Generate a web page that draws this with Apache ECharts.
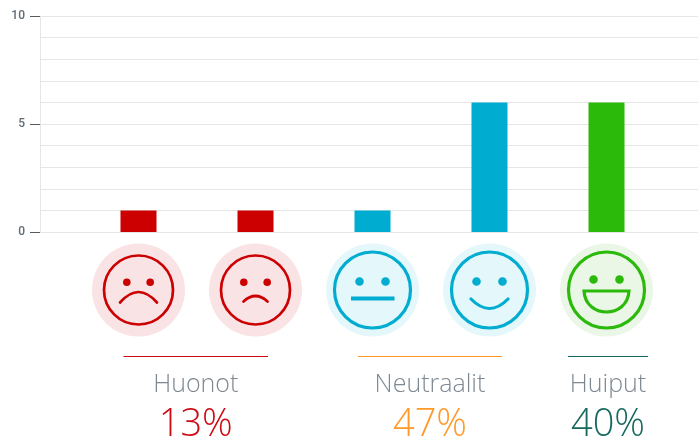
<!DOCTYPE html>
<html>
<head>
<meta charset="utf-8">
<style>
  html, body { margin: 0; padding: 0; background: #fff; }
  #chart { width: 698px; height: 440px; }
</style>
<script src="https://cdn.jsdelivr.net/npm/echarts@6/dist/echarts.min.js"></script>
</head>
<body>
<div id="chart"></div>
<script>
var categories = ['1', '2', '3', '4', '5'];
var values = [1, 1, 1, 6, 6];
var barColors = ['#cc0000', '#cc0000', '#00acd0', '#00acd0', '#2bb90a'];
var faceBackgrounds = ['#fae3e5', '#fae3e5', '#e4f7fa', '#e4f7fa', '#eaf6e6'];
var faceTypes = ['veryBad', 'bad', 'neutral', 'good', 'great'];
var groupNames = ['Huonot', 'Neutraalit', 'Huiput'];
var groupPercents = ['13%', '47%', '40%'];
var groupColors = ['#cc0a14', '#ff9a2a', '#16695f'];
var groupRanges = [[123.5, 268], [358, 502], [568, 648]];

var fontFamily = '"Open Sans", sans-serif';

var faceSizes = {
  veryBad: { r: 34.5, lw: 2.7, eye: 3.8, ex: 11.7, ey: -7.7, mw: 2.7 },
  bad: { r: 34.5, lw: 2.7, eye: 3.8, ex: 11.7, ey: -7.7, mw: 2.7 },
  neutral: { r: 38, lw: 3.2, eye: 4.3, ex: 13, ey: -8.5, mw: 4 },
  good: { r: 38, lw: 3.2, eye: 4.3, ex: 13, ey: -8.5, mw: 3.2 },
  great: { r: 38, lw: 3.2, eye: 4.3, ex: 13, ey: -10.5, mw: 3.2 }
};

// mouth drawn relative to the face centre
function curve(x1, y1, cpy, x2) {
  return { type: 'bezierCurve', shape: { x1: x1, y1: y1, cpx1: 0, cpy1: cpy, x2: x2, y2: y1 } };
}
function mouth(type) {
  if (type === 'veryBad') return curve(-18.5, 12.5, -8.5, 18.5);
  if (type === 'bad') return curve(-12, 11.5, 0.5, 12);
  if (type === 'good') return curve(-18.5, 9, 28, 18.5);
  if (type === 'neutral') return { type: 'line', shape: { x1: -21.5, y1: 8.5, x2: 22, y2: 8.5 } };
  return {
    type: 'path',
    shape: {
      pathData: 'M-22.5 1 L22.5 1 C21 30 -21 30 -22.5 1 Z',
      layout: 'cover', x: -22.5, y: 1, width: 45, height: 21
    }
  };
}

function renderFace(params, api) {
  var i = api.value(0);
  var pos = api.coord([i, 0]);
  var type = faceTypes[i];
  var s = faceSizes[type];
  var color = barColors[i];
  var mouthEl = mouth(type);
  mouthEl.style = {
    fill: 'none',
    stroke: color,
    lineWidth: s.mw,
    lineCap: type === 'neutral' ? 'butt' : 'round'
  };
  return {
    type: 'group',
    x: pos[0],
    y: pos[1] + 58,
    children: [
      { type: 'circle', shape: { r: 46.5 }, style: { fill: faceBackgrounds[i] } },
      { type: 'circle', shape: { r: s.r }, style: { fill: 'none', stroke: color, lineWidth: s.lw } },
      { type: 'circle', shape: { cx: -s.ex, cy: s.ey, r: s.eye }, style: { fill: color } },
      { type: 'circle', shape: { cx: s.ex, cy: s.ey, r: s.eye }, style: { fill: color } },
      mouthEl
    ]
  };
}

var groupGraphics = [];
groupNames.forEach(function (name, i) {
  var range = groupRanges[i];
  var center = (range[0] + range[1]) / 2;
  groupGraphics.push({
    type: 'line',
    shape: { x1: range[0], y1: 356.5, x2: range[1], y2: 356.5 },
    style: { stroke: groupColors[i], lineWidth: 1 }
  });
  groupGraphics.push({
    type: 'text',
    x: center,
    y: 384.5,
    style: {
      text: name,
      font: '300 25px ' + fontFamily,
      fill: '#7f8992',
      align: 'center',
      verticalAlign: 'middle'
    }
  });
  groupGraphics.push({
    type: 'text',
    x: center,
    y: 425,
    style: {
      text: groupPercents[i],
      font: '300 38px ' + fontFamily,
      fill: groupColors[i],
      align: 'center',
      verticalAlign: 'middle'
    }
  });
});

var chart = echarts.init(document.getElementById('chart'), null, { renderer: 'canvas' });
chart.setOption({
  animation: false,
  grid: [
    { left: 40, right: 0, top: 16, height: 216 },
    { left: 80, width: 585, top: 16, height: 216 }
  ],
  xAxis: [
    { gridIndex: 0, type: 'value', min: 0, max: 1, show: false },
    {
      gridIndex: 1,
      type: 'category',
      data: categories,
      axisLine: { show: false },
      axisTick: { show: false },
      axisLabel: { show: false }
    }
  ],
  yAxis: [
    {
      gridIndex: 0,
      type: 'value',
      min: 0,
      max: 10,
      interval: 1,
      axisLine: { show: true, lineStyle: { color: '#e6e6e6', width: 1 } },
      axisTick: { show: false },
      axisLabel: {
        margin: 15,
        color: '#5f6b75',
        fontFamily: 'Roboto',
        fontSize: 12,
        fontWeight: 500,
        formatter: function (v) { return v % 5 === 0 ? String(v) : ''; }
      },
      splitLine: { show: true, lineStyle: { color: '#e6e6e6', width: 1 } }
    },
    {
      gridIndex: 1,
      type: 'value',
      min: 0,
      max: 10,
      show: false
    },
    {
      // only carries the dark tick marks at 0, 5 and 10
      gridIndex: 0,
      type: 'value',
      min: 0,
      max: 10,
      interval: 5,
      position: 'left',
      axisLine: { show: false },
      axisTick: { show: true, length: 10, lineStyle: { color: '#555b60', width: 1 } },
      axisLabel: { show: false },
      splitLine: { show: false }
    }
  ],
  series: [
    {
      type: 'bar',
      xAxisIndex: 1,
      yAxisIndex: 1,
      barWidth: 36,
      data: values.map(function (v, i) {
        return { value: v, itemStyle: { color: barColors[i] } };
      })
    },
    {
      type: 'custom',
      xAxisIndex: 1,
      yAxisIndex: 1,
      clip: false,
      renderItem: renderFace,
      encode: { x: 0, y: 1 },
      data: categories.map(function (c, i) { return [i, 0]; })
    }
  ],
  graphic: groupGraphics
});
</script>
</body>
</html>
